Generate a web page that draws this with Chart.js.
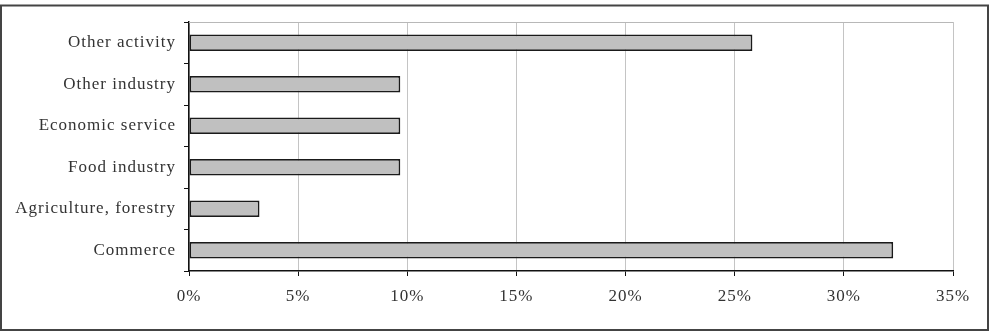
<!DOCTYPE html>
<html>
<head>
<meta charset="utf-8">
<script src="https://cdn.jsdelivr.net/npm/chart.js@4/dist/chart.umd.min.js"></script>
<style>
  html, body { margin: 0; padding: 0; background: #fff; }
  #wrap { width: 999px; height: 332px; }
</style>
</head>
<body>
<div id="wrap"><canvas id="graph"></canvas></div>
<script>
// categories, top to bottom
const secteurs = ['Other activity', 'Other industry', 'Economic service', 'Food industry', 'Agriculture, forestry', 'Commerce'];
// share of each sector (%)
const parts = [25.81, 9.68, 9.68, 9.68, 3.23, 32.26];
// x axis ticks
const ticksX = [0, 5, 10, 15, 20, 25, 30, 35];

const police = { family: '"Liberation Serif", "Times New Roman", serif', size: 17 };

// letter spacing + frame + top edge of the plot
const decor = {
    id: 'decor',
    beforeInit(chart) { chart.ctx.letterSpacing = '1px'; },
    beforeDraw(chart) { chart.ctx.letterSpacing = '1px'; },
    beforeDatasetsDraw(chart) {
        const { ctx, chartArea } = chart;
        ctx.save();
        ctx.strokeStyle = '#b8b8b8';
        ctx.lineWidth = 1;
        ctx.beginPath();
        ctx.moveTo(chartArea.left, chartArea.top + 0.5);
        ctx.lineTo(chartArea.right, chartArea.top + 0.5);
        ctx.stroke();
        ctx.restore();
    },
    afterDraw(chart) {
        const ctx = chart.ctx;
        ctx.save();
        ctx.strokeStyle = '#444';
        ctx.lineWidth = 2;
        ctx.strokeRect(1, 5.5, 987, 324.5);
        ctx.restore();
    }
};

const ctx = document.getElementById('graph').getContext('2d');
new Chart(ctx, {
    type: 'bar',
    data: {
        labels: secteurs,
        datasets: [{
            data: parts,
            backgroundColor: '#c0c0c0',
            borderColor: '#1a1a1a',
            borderWidth: 1.8,
            borderSkipped: false,
            barPercentage: 0.4,
            categoryPercentage: 1
        }]
    },
    options: {
        indexAxis: 'y',
        responsive: true,
        maintainAspectRatio: false,
        animation: false,
        layout: { padding: { left: 0, right: 46, top: 22, bottom: 0 } },
        plugins: {
            legend: { display: false },
            tooltip: { enabled: false }
        },
        scales: {
            x: {
                min: 0,
                max: 35,
                afterBuildTicks(axis) { axis.ticks = ticksX.map(v => ({ value: v })); },
                afterFit(axis) { axis.height = 61; },
                ticks: {
                    callback: v => v + '%',
                    color: '#333',
                    font: police,
                    padding: 10,
                    maxRotation: 0
                },
                grid: {
                    color: '#c4c4c4',
                    lineWidth: 1,
                    tickColor: '#111',
                    tickLength: 5
                },
                border: { color: '#111', width: 1.5 }
            },
            y: {
                afterFit(axis) { axis.width = 189; },
                ticks: {
                    color: '#333',
                    font: police,
                    padding: 8
                },
                grid: {
                    display: true,
                    drawOnChartArea: false,
                    offset: true,
                    tickColor: '#111',
                    tickLength: 5
                },
                border: { color: '#111', width: 1.5 }
            }
        }
    },
    plugins: [decor]
});
</script>
</body>
</html>
